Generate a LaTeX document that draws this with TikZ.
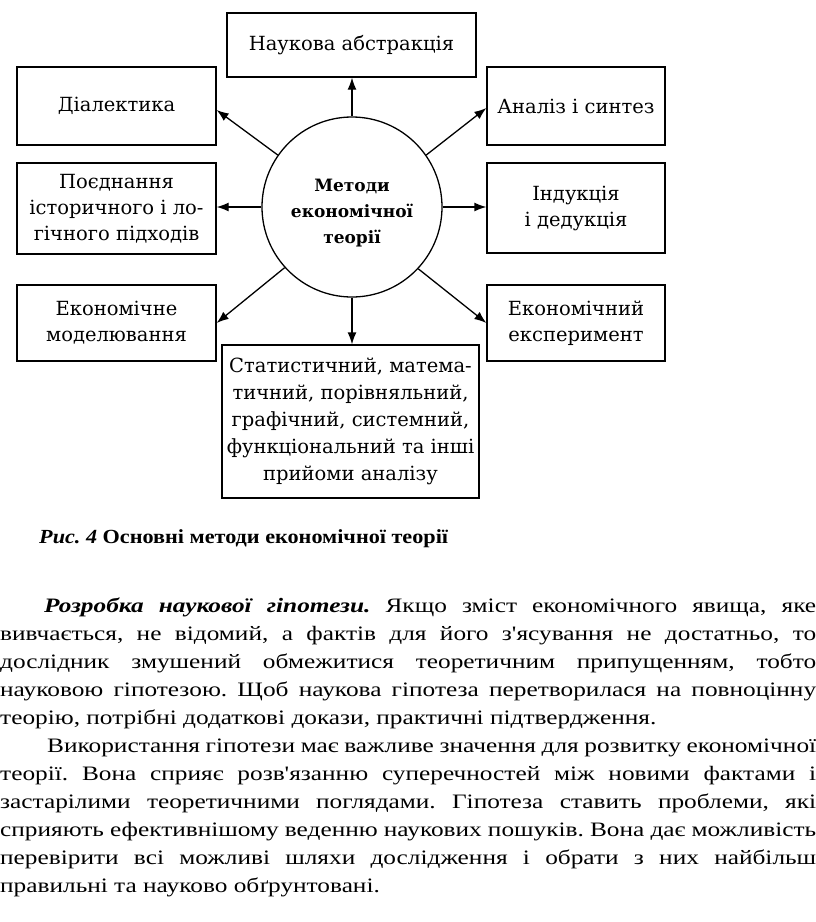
\documentclass[tikz,border=0pt]{standalone}
\usepackage{fontspec}
\setmainfont{Liberation Serif}
\newfontfamily\dfont{DejaVu Serif}
\newfontfamily\pfont{Liberation Serif}[FakeStretch=1.235]
\newfontfamily\cfont{Liberation Serif}[FakeStretch=1.11]
\usetikzlibrary{arrows.meta}
\begin{document}
\frenchspacing
\begin{tikzpicture}[x=1pt,y=-1pt,
  box/.style={draw, line width=1.3pt, align=center, inner sep=0pt,
    font=\dfont\fontsize{19.5}{26}\selectfont},
  arr/.style={line width=1.3pt, -{Latex[length=12pt,width=9pt]}},
  pline/.style={anchor=base west, inner sep=0pt, font=\pfont\fontsize{20.5}{24}\selectfont}]
\useasboundingbox (0,0) rectangle (816,922);
\fill[white] (0,0) rectangle (816,922);
% boxes
\node[box, minimum width=249pt, minimum height=64pt] (top) at (351.5,45) {Наукова абстракція};
\node[box, minimum width=199pt, minimum height=78pt] (dial) at (116.5,106) {Діалектика};
\node[box, minimum width=178pt, minimum height=78pt] (anal) at (576,106) {Аналіз і синтез};
\node[box, minimum width=199pt, minimum height=91pt] (poed) at (116.5,208.5) {Поєднання\\історичного і ло-\\гічного підходів};
\node[box, minimum width=178pt, minimum height=90pt] (ind) at (576,208) {Індукція\\і дедукція};
\node[box, minimum width=199pt, minimum height=76pt] (emod) at (116.5,323) {Економічне\\моделювання};
\node[box, minimum width=178pt, minimum height=76pt] (eexp) at (576,323) {Економічний\\експеримент};
\node[box, minimum width=257pt, minimum height=153pt, font=\dfont\fontsize{19.5}{27}\selectfont] (bot) at (350.5,421.5) {Статистичний, матема-\\тичний, порівняльний,\\графічний, системний,\\функціональний та інші\\прийоми аналізу};
\node[draw, circle, line width=1.3pt, minimum size=180pt, inner sep=0pt,
  font=\dfont\bfseries\fontsize{17}{26}\selectfont] (circ) at (352,207) {\parbox{130pt}{\vspace*{12pt}\centering Методи\\економічної\\теорії}};
% arrows
\draw[arr] (circ.north) -- (circ.north |- top.south);
\draw[arr] (circ.south) -- (circ.south |- bot.north);
\draw[arr] (circ.145) -- ([yshift=-4pt]dial.east);
\draw[arr] (circ.35) -- ([yshift=-2pt]anal.west);
\draw[arr] (circ.west) -- (circ.west -| poed.east);
\draw[arr] (circ.east) -- (circ.east -| ind.west);
\draw[arr] (circ.222) -- (emod.east);
\draw[arr] (circ.317) -- (eexp.west);
% caption
\node[anchor=base west, inner sep=0pt, font=\cfont\fontsize{20}{24}\selectfont] (cap) at (39,543) {\textbf{\textit{Рис. 4}} \textbf{Основні методи економічної теорії}};
% paragraph
\node[pline] (l1) at (44,612) {\makebox[772pt][s]{\textbf{\textit{Розробка наукової гіпотези.}} Якщо зміст економічного явища, яке}};
\node[pline] (l2) at (0,640) {\makebox[816pt][s]{вивчається, не відомий, а фактів для його з'ясування не достатньо, то}};
\node[pline] (l3) at (0,668) {\makebox[816pt][s]{дослідник змушений обмежитися теоретичним припущенням, тобто}};
\node[pline] (l4) at (0,696) {\makebox[816pt][s]{науковою гіпотезою. Щоб наукова гіпотеза перетворилася на повноцінну}};
\node[pline] (l5) at (0,724) {теорію, потрібні додаткові докази, практичні підтвердження.};
\node[pline] (l6) at (47,752) {\makebox[769pt][s]{Використання гіпотези має важливе значення для розвитку економічної}};
\node[pline] (l7) at (0,780) {\makebox[816pt][s]{теорії. Вона сприяє розв'язанню суперечностей між новими фактами і}};
\node[pline] (l8) at (0,808) {\makebox[816pt][s]{застарілими теоретичними поглядами. Гіпотеза ставить проблеми, які}};
\node[pline] (l9) at (0,836) {\makebox[816pt][s]{сприяють ефективнішому веденню наукових пошуків. Вона дає можливість}};
\node[pline] (l10) at (0,864) {\makebox[816pt][s]{перевірити всі можливі шляхи дослідження і обрати з них найбільш}};
\node[pline] (l11) at (0,892) {правильні та науково обґрунтовані.};
\end{tikzpicture}
\end{document}
